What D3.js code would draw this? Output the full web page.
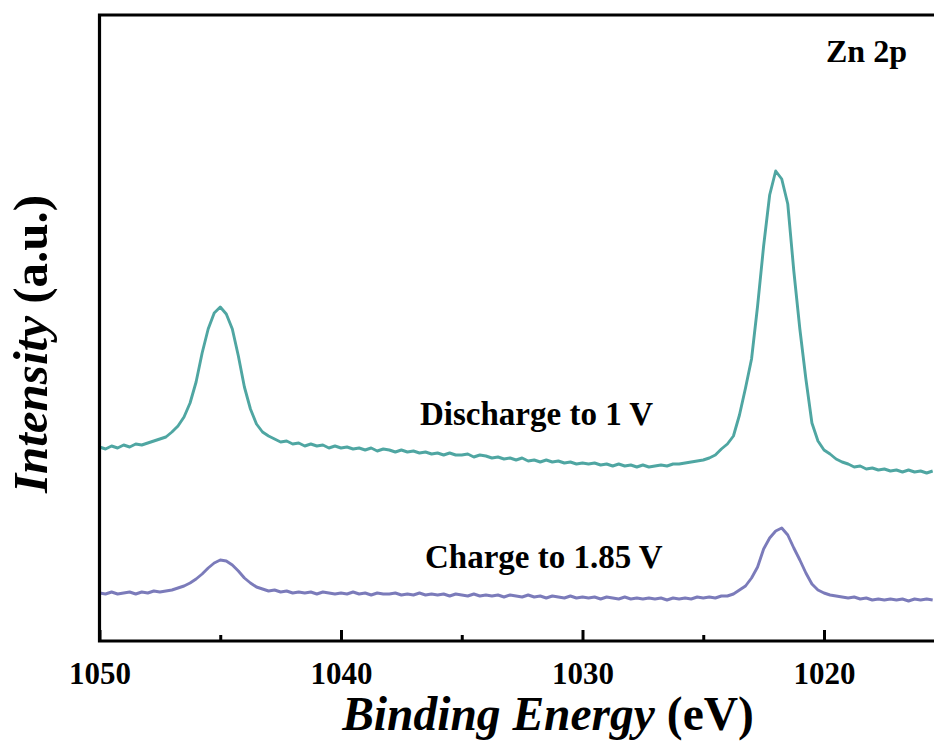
<!DOCTYPE html>
<html>
<head>
<meta charset="utf-8">
<script src="https://cdn.jsdelivr.net/npm/d3@7/dist/d3.min.js"></script>
</head>
<body style="margin:0">
<svg id="chart" width="934" height="749" style="display:block"></svg>
<script>
// Binding energy grid (eV), 0.25 eV steps
const energy = [
1050,1049.75,1049.5,1049.25,1049,1048.75,1048.5,1048.25,1048,1047.75,1047.5,1047.25,
1047,1046.75,1046.5,1046.25,1046,1045.75,1045.5,1045.25,1045,1044.75,1044.5,1044.25,
1044,1043.75,1043.5,1043.25,1043,1042.75,1042.5,1042.25,1042,1041.75,1041.5,1041.25,
1041,1040.75,1040.5,1040.25,1040,1039.75,1039.5,1039.25,1039,1038.75,1038.5,1038.25,
1038,1037.75,1037.5,1037.25,1037,1036.75,1036.5,1036.25,1036,1035.75,1035.5,1035.25,
1035,1034.75,1034.5,1034.25,1034,1033.75,1033.5,1033.25,1033,1032.75,1032.5,1032.25,
1032,1031.75,1031.5,1031.25,1031,1030.75,1030.5,1030.25,1030,1029.75,1029.5,1029.25,
1029,1028.75,1028.5,1028.25,1028,1027.75,1027.5,1027.25,1027,1026.75,1026.5,1026.25,
1026,1025.75,1025.5,1025.25,1025,1024.75,1024.5,1024.25,1024,1023.75,1023.5,1023.25,
1023,1022.75,1022.5,1022.25,1022,1021.75,1021.5,1021.25,1021,1020.75,1020.5,1020.25,
1020,1019.75,1019.5,1019.25,1019,1018.75,1018.5,1018.25,1018,1017.75,1017.5,1017.25,
1017,1016.75,1016.5,1016.25,1016,1015.75,1015.5
];

// Discharge to 1 V (a.u., offset)
const discharge = [
194,192,195,193,196,194,197,196,198,200,202,204,
209,215,224,238,259,288,312,328,334,327,312,285,
254,232,217,209,205,202,199,200,197,198,195,197,
195,196,193,195,193,194,192,193,191,193,190,192,
191,189,191,189,190,188,189,187,188,186,188,186,
186,187,184,186,185,183,184,182,183,181,183,180,
181,179,181,179,180,178,179,177,178,177,178,176,
177,175,177,175,176,174,176,174,175,176,175,177,
177,178,179,180,181,183,186,192,197,205,226,253,
282,335,395,446,470,462,437,370,312,262,218,200,
191,187,182,179,177,174,175,172,173,171,172,170,
171,169,171,169,170,168,170
];

// Charge to 1.85 V (a.u.)
const charge = [
48,47,49,47,48,49,47,49,48,50,49,50,
51,53,55,58,62,67,73,78,81,80,76,70,
63,58,54,52,50,51,49,50,48,49,48,49,
47,49,48,47,48,47,49,47,48,46,48,47,
47,48,46,47,46,48,46,47,46,47,45,47,
46,45,47,45,46,45,46,44,46,45,44,46,
44,45,43,45,44,43,45,43,44,43,44,42,
44,43,42,44,42,43,42,43,42,43,41,43,
42,43,42,44,43,44,43,45,45,47,51,55,
63,74,92,103,110,113,106,93,81,68,57,51,
48,46,45,44,43,44,42,43,41,42,41,42,
41,42,40,42,41,42,41
];

const majorTicks = [1050, 1040, 1030, 1020];
const minorTicks = [1045, 1035, 1025];
const seriesNames = ["Discharge to 1 V", "Charge to 1.85 V"];
const seriesColors = ["#4fa6a2", "#7b7bba"];

const svg = d3.select("#chart");
const plotLeft = 99.5, plotTop = 15, plotBottom = 641;

const x = d3.scaleLinear().domain([1050, 1015]).range([plotLeft, plotLeft + 35 * 24.15]);
const y = d3.scaleLinear().domain([0, 626]).range([plotBottom, plotTop]);

// series lines
const line = d3.line().x(d => x(d[0])).y(d => y(d[1]));
[discharge, charge].forEach((vals, i) => {
  svg.append("path")
    .datum(energy.map((e, k) => [e, vals[k]]))
    .attr("d", line)
    .attr("fill", "none")
    .attr("stroke", seriesColors[i])
    .attr("stroke-width", 2.9)
    .attr("stroke-linejoin", "round");
});

// frame (left, top, bottom; right edge falls outside the image)
svg.append("path")
  .attr("d", `M${x(1015)},${y(626)} H${plotLeft} V${plotBottom} H${x(1015)}`)
  .attr("fill", "none").attr("stroke", "#000").attr("stroke-width", 3.2);

// x axis ticks (inward)
const gx = svg.append("g").attr("transform", `translate(0,${plotBottom})`);
gx.call(d3.axisBottom(x).tickValues(majorTicks).tickSize(-11).tickPadding(21).tickFormat(d3.format("d")));
const gm = svg.append("g").attr("transform", `translate(0,${plotBottom})`);
gm.call(d3.axisBottom(x).tickValues(minorTicks).tickSize(-6).tickFormat(""));
[gx, gm].forEach(g => {
  g.attr("font-family", null).attr("font-size", null);
  g.select(".domain").remove();
  g.selectAll(".tick line").attr("stroke", "#000").attr("stroke-width", 3);
});

function label(sel, size) {
  return sel.attr("font-family", "Liberation Serif")
    .style("font-family", `"Liberation Serif"`)
    .style("font-weight", "bold")
    .style("font-size", `${size}px`)
    .attr("fill", "#000");
}
label(gx.selectAll(".tick text"), 31);

// axis titles
const xt = label(svg.append("text").attr("x", 548).attr("y", 730).attr("text-anchor", "middle"), 47.5);
xt.append("tspan").style("font-style", "italic").text("Binding Energy");
xt.append("tspan").text(" (eV)");

const yt = label(svg.append("text")
  .attr("transform", "translate(47,344) rotate(-90)")
  .attr("text-anchor", "middle"), 49);
yt.append("tspan").style("font-style", "italic").text("Intensity");
yt.append("tspan").text(" (a.u.)");

// annotations
label(svg.append("text").attr("x", 826).attr("y", 62), 32).text("Zn 2p");
label(svg.append("text").attr("x", 420).attr("y", 425), 33).text(seriesNames[0]);
label(svg.append("text").attr("x", 425).attr("y", 568), 33).text(seriesNames[1]);
</script>
</body>
</html>
